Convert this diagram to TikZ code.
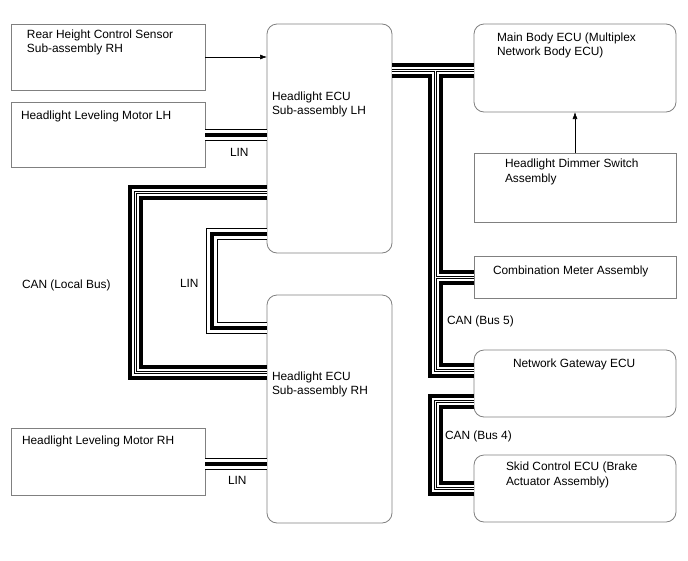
\documentclass[tikz,border=0pt]{standalone}
\usepackage{fontspec}
\setmainfont{Liberation Sans}
\usetikzlibrary{arrows.meta,calc}
\begin{document}
\begin{tikzpicture}[x=1pt,y=-1pt,
  box/.style={draw=black!50, line width=0.8pt, fill=white, inner sep=0pt, outer sep=0pt},
  sqbox/.style={box},
  rbox/.style={box, rounded corners=10pt},
  lbl/.style={anchor=base west, inner sep=0pt, outer sep=0pt, font=\fontsize{11.9}{14}\selectfont},
  canbus/.style={draw=black, line width=15pt,
    postaction={draw=white, line width=7pt},
    postaction={draw=black, line width=3pt},
    postaction={draw=white, line width=1pt}},
  linbus/.style={draw=black, line width=12pt,
    postaction={draw=white, line width=10pt},
    postaction={draw=black, line width=4pt}},
  arr/.style={draw=black, line width=0.6pt, -{Latex[length=7pt,width=5pt]}}]
\useasboundingbox (0,0) rectangle (688,560);

% boxes
\node[sqbox, minimum width=194pt, minimum height=66pt] (rear) at (108,57) {};
\node[sqbox, minimum width=194pt, minimum height=65pt] (motL) at (108,134.5) {};
\node[rbox, minimum width=125pt, minimum height=229pt] (ecuL) at (329.5,138.5) {};
\node[rbox, minimum width=125pt, minimum height=228pt] (ecuR) at (329.5,409) {};
\node[sqbox, minimum width=194pt, minimum height=67pt] (motR) at (108,461.5) {};
\node[rbox, minimum width=202pt, minimum height=88pt] (mbody) at (575,68) {};
\node[sqbox, minimum width=202pt, minimum height=69pt] (dim) at (575,187.5) {};
\node[sqbox, minimum width=202pt, minimum height=42pt] (cmb) at (575,277) {};
\node[rbox, minimum width=202pt, minimum height=67pt] (gw) at (575,383.5) {};
\node[rbox, minimum width=202pt, minimum height=67pt] (skid) at (575,488.5) {};

% helper coordinates
\coordinate (lx) at (135.5,0);
\coordinate (la) at ($(ecuL.west)+(0,53.5)$);
\coordinate (lb) at ($(ecuR.west)+(0,-36.5)$);
\coordinate (mx) at (211.5,0);
\coordinate (ma) at ($(ecuL.west)+(0,95.5)$);
\coordinate (mb) at ($(ecuR.west)+(0,-81)$);
\coordinate (bx) at (435,0);
\coordinate (m5) at ($(mbody.west)+(0,2.5)$);
\coordinate (g5) at ($(gw.west)+(0,-13)$);
\coordinate (g4) at ($(gw.west)+(0,18)$);
\coordinate (rm) at ($(motR.east)+(0,2)$);

% CAN buses
\draw[canbus] (la) -- (la -| lx) -- (lb -| lx) -- (lb);
\draw[canbus] (m5 -| ecuL.east) -- (m5)
  (m5 -| bx) -- (g5 -| bx) -- (g5)
  (cmb.west -| bx) -- (cmb.west);
\draw[canbus] (g4) -- (g4 -| bx) -- (skid.west -| bx) -- (skid.west);

% LIN buses
\draw[linbus] (motL.east) -- (motL.east -| ecuL.west);
\draw[linbus] (rm) -- (rm -| ecuR.west);
\draw[linbus] (ma) -- (ma -| mx) -- (mb -| mx) -- (mb);

% arrows
\draw[arr] (rear.east) -- (rear.east -| ecuL.west);
\draw[arr] (dim.north) -- (dim.north |- mbody.south);

% texts
\node[lbl] (t1a) at (27,38) {Rear Height Control Sensor};
\node[lbl] (t1b) at (27,52) {Sub-assembly RH};
\node[lbl] (t2) at (21,119) {Headlight Leveling Motor LH};
\node[lbl] (t3a) at (272,100) {Headlight ECU};
\node[lbl] (t3b) at (272,114) {Sub-assembly LH};
\node[lbl] (t4a) at (272,380) {Headlight ECU};
\node[lbl] (t4b) at (272,394) {Sub-assembly RH};
\node[lbl] (t5) at (22,444) {Headlight Leveling Motor RH};
\node[lbl] (t6a) at (497,41) {Main Body ECU (Multiplex};
\node[lbl] (t6b) at (497,55) {Network Body ECU)};
\node[lbl] (t7a) at (505,167) {Headlight Dimmer Switch};
\node[lbl] (t7b) at (505,182) {Assembly};
\node[lbl] (t8) at (493,274) {Combination Meter Assembly};
\node[lbl] (t9) at (513,367) {Network Gateway ECU};
\node[lbl] (t10a) at (506,470) {Skid Control ECU (Brake};
\node[lbl] (t10b) at (506,485) {Actuator Assembly)};
\node[lbl] (lin1) at (230,156) {LIN};
\node[lbl] (lin2) at (180,287) {LIN};
\node[lbl] (lin3) at (228,484) {LIN};
\node[lbl] (can1) at (22,288) {CAN (Local Bus)};
\node[lbl] (can5) at (447,324) {CAN (Bus 5)};
\node[lbl] (can4) at (445,439) {CAN (Bus 4)};
\end{tikzpicture}
\end{document}
